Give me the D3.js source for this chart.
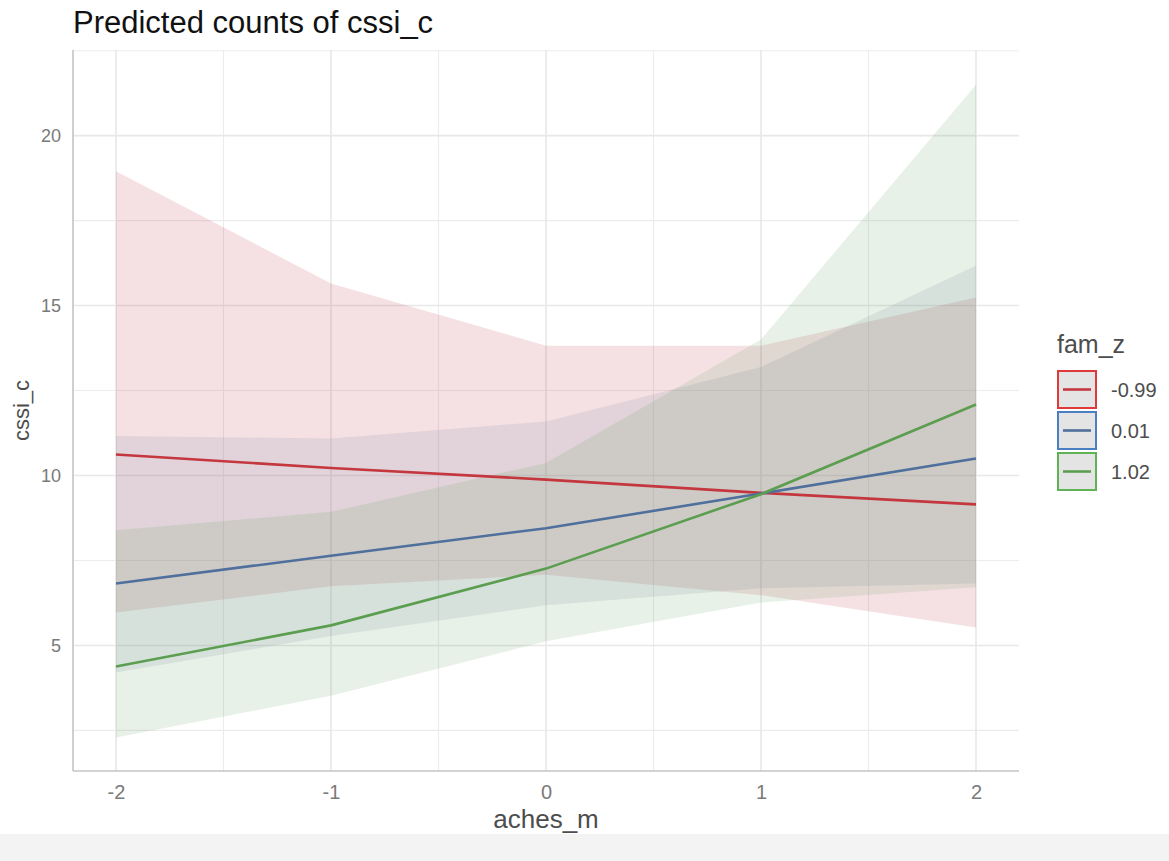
<!DOCTYPE html>
<html>
<head>
<meta charset="utf-8">
<script src="https://cdn.jsdelivr.net/npm/d3@7"></script>
<style>
  html, body { margin: 0; padding: 0; background: #ffffff; }
  svg { display: block; font-family: "Liberation Sans", Arial, Helvetica, sans-serif; }
</style>
</head>
<body>
<svg id="chart" width="1169" height="861"></svg>
<script>
// Predicted values of cssi_c across aches_m, one series per fam_z level
const xValues = [-2, -1, 0, 1, 2];
const groupLabels = ["-0.99", "0.01", "1.02"];

const predNeg099 = [10.62, 10.22, 9.88, 9.49, 9.15];
const lowNeg099  = [5.97, 6.74, 7.08, 6.48, 5.53];
const highNeg099 = [18.95, 15.65, 13.82, 13.82, 15.24];

const pred001 = [6.82, 7.64, 8.45, 9.47, 10.50];
const low001  = [4.20, 5.28, 6.18, 6.68, 6.82];
const high001 = [11.16, 11.09, 11.59, 13.19, 16.18];

const pred102 = [4.38, 5.59, 7.26, 9.45, 12.09];
const low102  = [2.29, 3.52, 5.12, 6.26, 6.71];
const high102 = [8.39, 8.93, 10.37, 14.00, 21.50];

const xTicks = [-2, -1, 0, 1, 2];
const yTicks = [5, 10, 15, 20];

const lineColors   = ["#c4373e", "#4f6f9c", "#5c9e50"];
const ribbonColors = ["#bc3744", "#72899f", "#66a266"];
const keyColors    = ["#e0393b", "#4a80c2", "#5fb354"];

const series = [
  { label: groupLabels[0], pred: predNeg099, low: lowNeg099, high: highNeg099 },
  { label: groupLabels[1], pred: pred001, low: low001, high: high001 },
  { label: groupLabels[2], pred: pred102, low: low102, high: high102 }
].map((s, i) => ({
  ...s,
  line: lineColors[i], fill: ribbonColors[i], key: keyColors[i],
  points: xValues.map((x, j) => ({ x, y: s.pred[j], lo: s.low[j], hi: s.high[j] }))
}));

const svg = d3.select("#chart");
const panel = { left: 73, right: 1019, top: 50, bottom: 771 };
const narrow = "'Liberation Sans Narrow', 'Liberation Sans', Arial, sans-serif";

const x = d3.scaleLinear().domain([-2.2, 2.2]).range([panel.left, panel.right]);
const y = d3.scaleLinear().domain([1.32, 22.52]).range([770.5, panel.top]);

// bottom strip of the page
svg.append("rect").attr("x", 0).attr("y", 834).attr("width", 1169).attr("height", 27).attr("fill", "#f3f3f3");

// gridlines
const grid = svg.append("g");
const xMinor = [-1.5, -0.5, 0.5, 1.5];
const yMinor = [2.5, 7.5, 12.5, 17.5, 22.5];
grid.selectAll(".vmin").data(xMinor).join("line")
  .attr("x1", d => x(d)).attr("x2", d => x(d)).attr("y1", panel.top).attr("y2", panel.bottom)
  .attr("stroke", "#ececec").attr("stroke-width", 1.1);
grid.selectAll(".hmin").data(yMinor).join("line")
  .attr("y1", d => y(d)).attr("y2", d => y(d)).attr("x1", panel.left).attr("x2", panel.right)
  .attr("stroke", "#ececec").attr("stroke-width", 1.1);
grid.selectAll(".vmaj").data(xTicks).join("line")
  .attr("x1", d => x(d)).attr("x2", d => x(d)).attr("y1", panel.top).attr("y2", panel.bottom)
  .attr("stroke", "#e8e8e8").attr("stroke-width", 1.6);
grid.selectAll(".hmaj").data(yTicks).join("line")
  .attr("y1", d => y(d)).attr("y2", d => y(d)).attr("x1", panel.left).attr("x2", panel.right)
  .attr("stroke", "#e8e8e8").attr("stroke-width", 1.6);

// confidence ribbons
const area = d3.area().x(d => x(d.x)).y0(d => y(d.lo)).y1(d => y(d.hi));
svg.append("g").selectAll("path").data(series).join("path")
  .attr("d", d => area(d.points))
  .attr("fill", d => d.fill).attr("fill-opacity", 0.15);

// predicted lines
const line = d3.line().x(d => x(d.x)).y(d => y(d.y));
svg.append("g").selectAll("path").data(series).join("path")
  .attr("d", d => line(d.points))
  .attr("fill", "none").attr("stroke", d => d.line).attr("stroke-width", 2.6);

// axes
const xAxis = svg.append("g").attr("transform", `translate(0,${panel.bottom})`)
  .call(d3.axisBottom(x).tickValues(xTicks).tickSize(0).tickPadding(14).tickFormat(d => String(d)));
xAxis.select(".domain").remove();
xAxis.selectAll("text").attr("font-size", 20).attr("fill", "#7a7a7a").attr("font-family", narrow);

const yAxis = svg.append("g").attr("transform", `translate(${panel.left},0)`)
  .call(d3.axisLeft(y).tickValues(yTicks).tickSize(0).tickPadding(12).tickFormat(d => String(d)));
yAxis.select(".domain").remove();
yAxis.selectAll("text").attr("font-size", 18).attr("fill", "#7a7a7a");

svg.append("line").attr("x1", panel.left).attr("x2", panel.left).attr("y1", panel.top).attr("y2", panel.bottom)
  .attr("stroke", "#c4c4c4").attr("stroke-width", 1.6);
svg.append("line").attr("x1", panel.left).attr("x2", panel.right).attr("y1", panel.bottom).attr("y2", panel.bottom)
  .attr("stroke", "#c4c4c4").attr("stroke-width", 1.6);

// titles
svg.append("text").attr("x", 73).attr("y", 33).attr("font-size", 31).attr("fill", "#111")
  .text("Predicted counts of cssi_c");
svg.append("text").attr("x", x(0)).attr("y", 828).attr("text-anchor", "middle")
  .attr("font-size", 26).attr("fill", "#4d4d4d").attr("font-family", narrow)
  .text("aches_m");
svg.append("text").attr("transform", `translate(29,${(panel.top + panel.bottom) / 2}) rotate(-90)`)
  .attr("text-anchor", "middle").attr("font-size", 22).attr("fill", "#4d4d4d")
  .text("cssi_c");

// legend
const legend = svg.append("g").attr("transform", "translate(1057,0)");
legend.append("text").attr("x", 0).attr("y", 353).attr("font-size", 25).attr("fill", "#4d4d4d").text("fam_z");
const keys = legend.selectAll("g.key").data(series).join("g")
  .attr("transform", (d, i) => `translate(0,${370 + i * 41})`);
keys.append("rect").attr("x", 1).attr("y", 1).attr("width", 38).attr("height", 37)
  .attr("fill", "#e4e4e4").attr("stroke", d => d.key).attr("stroke-width", 2);
keys.append("line").attr("x1", 6).attr("x2", 34).attr("y1", 19.5).attr("y2", 19.5)
  .attr("stroke", d => d.line).attr("stroke-width", 2.6);
keys.append("text").attr("x", 54).attr("y", 19.5).attr("dy", "0.35em")
  .attr("font-size", 20).attr("fill", "#4d4d4d").text(d => d.label);
</script>
</body>
</html>
